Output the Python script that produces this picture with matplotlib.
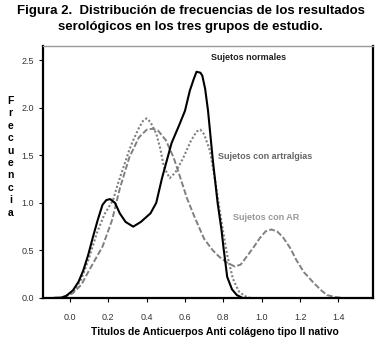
import numpy as np
import matplotlib.pyplot as plt

plt.rcParams['font.family'] = ['Liberation Sans', 'DejaVu Sans']

# Sujetos normales (solid)
x_norm = [-0.08, -0.05, -0.02, 0.016, 0.045, 0.07, 0.095, 0.12, 0.145, 0.17, 0.19, 0.21, 0.235,
          0.26, 0.29, 0.33, 0.37, 0.42, 0.45, 0.48, 0.53, 0.57, 0.60, 0.625, 0.645, 0.66, 0.68,
          0.69, 0.705, 0.72, 0.745, 0.77, 0.79, 0.80, 0.82, 0.845, 0.87, 0.9]
y_norm = [0.0, 0.0, 0.02, 0.08, 0.17, 0.29, 0.45, 0.64, 0.82, 0.98, 1.03, 1.04, 1.0,
          0.89, 0.80, 0.75, 0.80, 0.89, 1.0, 1.26, 1.63, 1.82, 1.97, 2.18, 2.30, 2.38, 2.37,
          2.34, 2.2, 1.97, 1.45, 1.0, 0.72, 0.54, 0.22, 0.09, 0.03, 0.0]

# Sujetos con artralgias (dotted)
x_art = [-0.08, -0.05, -0.02, 0.02, 0.06, 0.10, 0.14, 0.18, 0.225, 0.25, 0.28, 0.31, 0.33, 0.36,
         0.38, 0.40, 0.42, 0.45, 0.47, 0.49, 0.52, 0.55, 0.59, 0.63, 0.66, 0.68, 0.70, 0.73,
         0.76, 0.79, 0.82, 0.85, 0.88, 0.91, 0.94]
y_art = [0.0, 0.0, 0.02, 0.07, 0.2, 0.42, 0.68, 0.88, 1.03, 1.2, 1.38, 1.56, 1.66, 1.79,
         1.86, 1.89, 1.85, 1.73, 1.58, 1.38, 1.26, 1.32, 1.47, 1.65, 1.75, 1.77, 1.72, 1.55,
         1.2, 0.8, 0.45, 0.2, 0.07, 0.02, 0.0]

# Sujetos con AR (dashed)
x_ar = [-0.08, -0.03, 0.016, 0.06, 0.10, 0.17, 0.22, 0.26, 0.31, 0.36, 0.40, 0.43, 0.46, 0.50,
        0.54, 0.57, 0.61, 0.65, 0.70, 0.745, 0.78, 0.82, 0.86, 0.89, 0.92, 0.96, 0.99, 1.02,
        1.05, 1.08, 1.11, 1.15, 1.18, 1.22, 1.27, 1.31, 1.34, 1.38, 1.42]
y_ar = [0.0, 0.01, 0.05, 0.14, 0.29, 0.54, 0.82, 1.15, 1.48, 1.69, 1.77, 1.78, 1.76, 1.66,
        1.48, 1.3, 1.05, 0.85, 0.62, 0.50, 0.43, 0.37, 0.33, 0.35, 0.43, 0.54, 0.63, 0.70,
        0.72, 0.70, 0.64, 0.52, 0.40, 0.27, 0.16, 0.08, 0.03, 0.01, 0.0]

x_ticks = [0.0, 0.2, 0.4, 0.6, 0.8, 1.0, 1.2, 1.4]
y_ticks = [0.0, 0.5, 1.0, 1.5, 2.0, 2.5]

fig = plt.figure(figsize=(3.81, 3.44), dpi=100)
ax = fig.add_axes([0.113, 0.134, 0.866, 0.732])

ax.plot(x_ar, y_ar, color='#808080', lw=1.4, dashes=(3, 1.2))
ax.plot(x_art, y_art, color='#808080', lw=1.5, linestyle=(0, (1, 1)))
ax.plot(x_norm, y_norm, color='black', lw=1.5)

ax.set_xlim(-0.14, 1.58)
ax.set_ylim(0, 2.65)
ax.set_xticks(x_ticks)
ax.set_yticks(y_ticks)
ax.set_xticklabels(['%.1f' % v for v in x_ticks])
ax.set_yticklabels(['%.1f' % v for v in y_ticks])
ax.tick_params(labelsize=6.5, labelcolor='#333333', length=3, width=0.8)
ax.tick_params(axis='x', pad=8)

for s in ['left', 'bottom']:
    ax.spines[s].set_linewidth(1.6)
ax.spines['top'].set_color('#999999')
ax.spines['top'].set_linewidth(1)
ax.spines['right'].set_linewidth(1.6)

ax.text(0.735, 2.5, 'Sujetos normales', fontsize=6.5, fontweight='bold', color='#222222')
ax.text(0.77, 1.46, 'Sujetos con artralgias', fontsize=6.5, fontweight='bold', color='#666666')
ax.text(0.85, 0.82, 'Sujetos con AR', fontsize=6.5, fontweight='bold', color='#999999')

fig.text(0.5, 0.985, 'Figura 2.  Distribución de frecuencias de los resultados',
         ha='center', va='top', fontsize=9.5, fontweight='bold')
fig.text(0.5, 0.938, 'serológicos en los tres grupos de estudio.',
         ha='center', va='top', fontsize=9.5, fontweight='bold')
fig.text(0.027, 0.544, '\n'.join('Frecuencia'), ha='center', va='center', fontsize=7.5,
         fontweight='bold', linespacing=1.3)
fig.text(0.565, 0.035, 'Titulos de Anticuerpos Anti colágeno tipo II nativo', ha='center', va='center',
         fontsize=7.5, fontweight='bold')

fig.savefig('out.png', dpi=100)
